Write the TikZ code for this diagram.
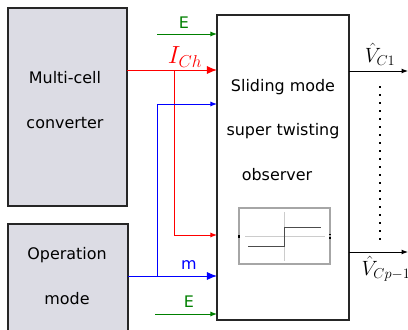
\documentclass[tikz,border=0pt]{standalone}
\usepackage{fontspec}
\setmainfont{DejaVu Sans}
\usetikzlibrary{arrows.meta}
\definecolor{boxfill}{RGB}{220,220,228}
\definecolor{dgreen}{RGB}{0,128,0}
\begin{document}
\begin{tikzpicture}[x=1bp,y=-1bp,
  blk/.style={draw=black!85,line width=1.3bp,fill=boxfill,inner sep=0pt,outer sep=0pt},
  obsbox/.style={draw=black!85,line width=1.3bp,fill=white,inner sep=0pt,outer sep=0pt},
  txt/.style={font=\fontsize{16}{19}\selectfont,inner sep=0pt},
  sig/.style={line width=1bp,-{Latex[length=6.5bp,width=5bp]}},
  bigsig/.style={line width=1bp,-{Latex[length=10bp,width=8bp]}},
  mlab/.style={font=\fontsize{21}{24}\selectfont,inner sep=0pt}]
\clip (0,0) rectangle (408,330);
\node[blk,minimum width=119bp,minimum height=198bp] (mc) at (67.5,107) {};
\node[blk,minimum width=120bp,minimum height=122bp] (op) at (68,285) {};
\node[obsbox,minimum width=132bp,minimum height=305bp] (obs) at (283,167.5) {};
\node[txt] (t1) at (65,78) {Multi-cell};
\node[txt] (t2) at (65,123) {converter};
\node[txt] (t3) at (67,255) {Operation};
\node[txt] (t4) at (67,299) {mode};
\node[txt] (t5) at (283,87) {Sliding mode};
\node[txt] (t6) at (283,131) {super twisting};
\node[txt] (t7) at (277,175) {observer};
% scope icon
\node[draw=black!35,line width=1.3bp,fill=white,minimum width=91bp,minimum height=56bp,inner sep=0pt,outer sep=0pt] (sc) at (284.5,236) {};
\draw[black!20,line width=0.8bp] (245,236) -- (325,236) (284,212) -- (284,261);
\draw[black!70,line width=1bp] (248,246) -- (284,246) -- (284,227) -- (321,227);
\fill[black] (sc.west) ++(-0.6,-1.5) rectangle ++(1.2,3);
\fill[black] (sc.east) ++(-0.6,-2.5) rectangle ++(1.2,1.5);
\fill[black] (sc.east) ++(-0.6,1) rectangle ++(1.2,1.5);
% inputs
\coordinate (e1) at (157,34);
\draw[sig,dgreen] (e1) -- (e1 -| obs.west);
\node[txt,text=dgreen] (le1) at (184,23) {E};
\coordinate (ich) at (174,70);
\draw[bigsig,red] (mc.east |- ich) -- (obs.west |- ich);
\node[font=\fontsize{24}{27}\selectfont,inner sep=0pt,text=red] (lich) at (185,57) {$I_{Ch}$};
\coordinate (redlow) at (174,235);
\draw[sig,red] (ich) -- (redlow) -- (obs.west |- redlow);
\coordinate (mm) at (157,276);
\draw[bigsig,blue] (op.east |- mm) -- (obs.west |- mm);
\node[txt,text=blue] (lm) at (189,265) {m};
\coordinate (bluehi) at (157,104);
\draw[sig,blue] (mm) -- (bluehi) -- (obs.west |- bluehi);
\coordinate (e2) at (155,314);
\draw[sig,dgreen] (e2) -- (e2 -| obs.west);
\node[txt,text=dgreen] (le2) at (189,302) {E};
% outputs
\coordinate (o1) at (408,71);
\draw[sig,black] (obs.east |- o1) -- (o1);
\node[mlab] (lo1) at (380,54) {$\hat V_{C1}$};
\coordinate (o2) at (408,252);
\draw[sig,black] (obs.east |- o2) -- (o2);
\node[mlab] (lo2) at (386,269) {$\hat V_{Cp-1}$};
\draw[line width=2bp,dash pattern=on 2bp off 6bp] (380,86) -- (380,240);
\end{tikzpicture}
\end{document}
